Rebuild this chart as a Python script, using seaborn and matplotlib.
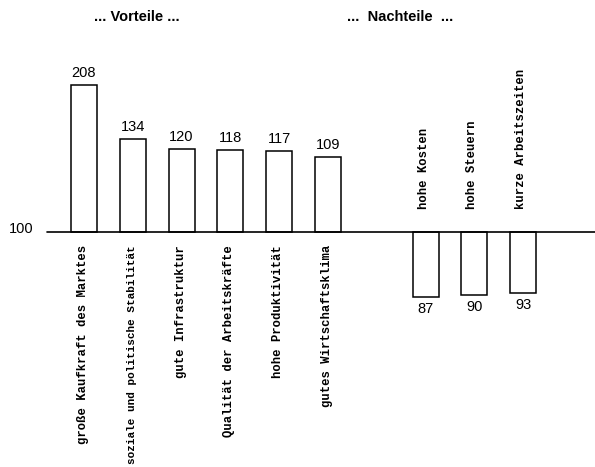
import numpy as np
import matplotlib
matplotlib.use("Agg")
import matplotlib.pyplot as plt
import seaborn as sns

# Index values (100 = average) for location factors
pro_labels = [
    "große Kaufkraft des Marktes",
    "soziale und politische Stabilität",
    "gute Infrastruktur",
    "Qualität der Arbeitskräfte",
    "hohe Produktivität",
    "gutes Wirtschaftsklima",
]
pro_values = [208, 134, 120, 118, 117, 109]

con_labels = ["hohe Kosten", "hohe Steuern", "kurze Arbeitszeiten"]
con_values = [87, 90, 93]

BASE = 100
group_titles = ["... Vorteile ...", "...  Nachteile  ..."]

sns.set_theme(style="white")
plt.rcParams["font.family"] = ["Liberation Sans", "DejaVu Sans"]
plt.rcParams["text.color"] = "black"

labels = pro_labels + con_labels
devs = [v - BASE for v in pro_values + con_values]
order = pro_labels + [""] + con_labels

W, H, DPI = 5.95, 4.67, 100
fig = plt.figure(figsize=(W, H), dpi=DPI)
ax = fig.add_axes([0, 0, 1, 1])

sns.barplot(x=labels, y=devs, order=order, width=0.53, color="white",
            saturation=1, edgecolor="black", linewidth=1.1, ax=ax)

# Broken value axis: bars start with a fixed stub, then grow linearly
UP_GAP, DOWN_GAP, K = 68.5, 56.0, 0.727


def fwd(y):
    y = np.asarray(y, dtype=float)
    return np.where(y > 0, UP_GAP + K * y, np.where(y < 0, -DOWN_GAP + K * y, 0.0))


def inv(f):
    f = np.asarray(f, dtype=float)
    return np.where(f > UP_GAP, (f - UP_GAP) / K,
                    np.where(f < -DOWN_GAP, (f + DOWN_GAP) / K, 0.0))


ax.set_yscale("function", functions=(fwd, inv))
base_px = 232
ax.set_ylim((-(H * DPI - base_px) + DOWN_GAP) / K, (base_px - UP_GAP) / K)
ax.set_xlim(-84 / 48.8, (W * DPI - 84) / 48.8)
ax.axis("off")

# Baseline at index 100
ax.axhline(0, xmin=47 / (W * DPI), xmax=1, color="black", lw=1.2)
ax.annotate(str(BASE), xy=(47 / (W * DPI), 0), xycoords=("axes fraction", "data"),
            xytext=(-13, 3), textcoords="offset pixels", ha="right", va="center",
            fontsize=10.5)

pos = {c: i for i, c in enumerate(order)}
mono = ["Liberation Mono", "DejaVu Sans Mono"]

for lab, val in zip(pro_labels, pro_values):
    i = pos[lab]
    # the longest label is set a little smaller so it stays inside the figure
    size = 7.9 if len(lab) > 30 else 8.8
    ax.annotate(str(val), xy=(i, val - BASE), xytext=(0, 5), textcoords="offset pixels",
                ha="center", va="bottom", fontsize=10.5)
    ax.annotate(lab, xy=(i, 0), xytext=(-1, -13), textcoords="offset pixels",
                ha="center", va="top", rotation=90, fontsize=size,
                family=mono, fontweight="bold")

for lab, val in zip(con_labels, con_values):
    i = pos[lab]
    ax.annotate(str(val), xy=(i, val - BASE), xytext=(0, -5), textcoords="offset pixels",
                ha="center", va="top", fontsize=10.5)
    ax.annotate(lab, xy=(i, 0), xytext=(-2, 23), textcoords="offset pixels",
                ha="center", va="bottom", rotation=90, fontsize=8.8,
                family=mono, fontweight="bold")

fig.text(137 / (W * DPI), 1 - 17 / (H * DPI), group_titles[0], ha="center", va="center",
         fontsize=10.5, fontweight="heavy")
fig.text(400 / (W * DPI), 1 - 17 / (H * DPI), group_titles[1], ha="center", va="center",
         fontsize=10.5, fontweight="heavy")

fig.savefig("out.png", dpi=DPI)
